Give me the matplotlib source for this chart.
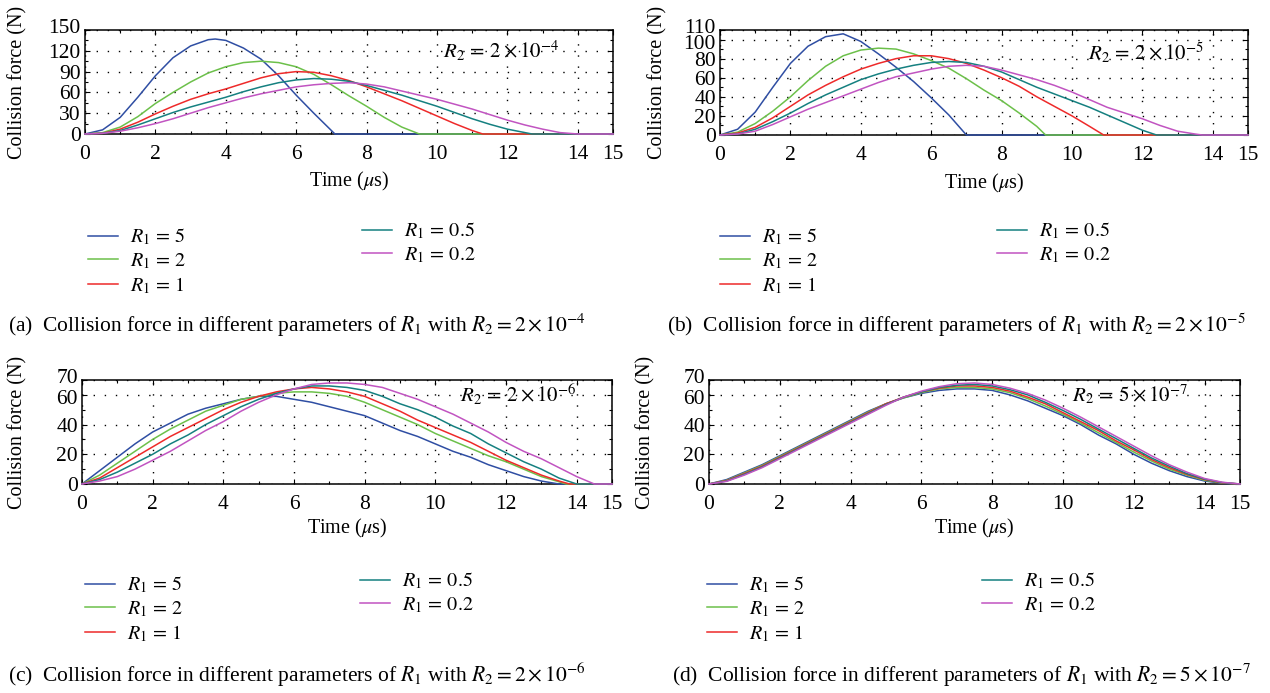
import matplotlib
matplotlib.use("Agg")
import matplotlib.pyplot as plt
from matplotlib.ticker import MultipleLocator
from matplotlib.transforms import ScaledTranslation

plt.rcParams['font.family'] = ['Liberation Serif', 'DejaVu Serif']
plt.rcParams['mathtext.fontset'] = 'stix'

# R1 values and colours shared by all panels
R1_LABELS = ['5', '2', '1', '0.5', '0.2']
COLORS = ['#2f4ea3', '#6cc04a', '#ee2a2a', '#158080', '#c154c1']

# (a) R2 = 2e-4
A5_T = [0, 0.5, 1, 1.5, 2, 2.5, 3, 3.5, 3.7, 4, 4.5, 5, 5.5, 6, 6.5, 7, 7.1, 15]
A5_F = [0, 6, 24, 53, 84, 110, 127, 136, 137, 135, 124, 108, 84, 56, 30, 5, 0, 0]
A2_T = [0, 0.5, 1, 1.5, 2, 2.5, 3, 3.5, 4, 4.5, 5, 5.5, 6, 6.5, 7, 7.5, 8, 8.5, 9, 9.5, 15]
A2_F = [0, 2, 10, 25, 44, 60, 75, 88, 97, 103, 105, 103, 97, 86, 71, 55, 40, 24, 10, 0, 0]
A1_T = [0, 0.5, 1, 1.5, 2, 2.5, 3, 3.5, 4, 4.5, 5, 5.5, 6, 6.5, 7, 7.5, 8, 8.5, 9, 9.5,
        10, 10.5, 11, 11.3, 15]
A1_F = [0, 1, 7, 17, 29, 40, 50, 58, 65, 73, 81, 87, 90, 89, 84, 77, 68, 58, 48, 37,
        26, 15, 5, 0, 0]
A05_T = [0, 0.5, 1, 1.5, 2, 2.5, 3, 3.5, 4, 4.5, 5, 5.5, 6, 6.5, 7, 7.5, 8, 8.5, 9, 9.5,
         10, 10.5, 11, 11.5, 12, 12.5, 12.7, 15]
A05_F = [0, 1, 5, 13, 22, 31, 39, 46, 53, 61, 68, 74, 78, 80, 79, 76, 70, 63, 56, 48,
         40, 31, 22, 14, 7, 2, 0, 0]
A02_T = [0, 0.5, 1, 1.5, 2, 2.5, 3, 3.5, 4, 4.5, 5, 5.5, 6, 6.5, 7, 7.5, 8, 8.5, 9, 9.5,
         10, 10.5, 11, 11.5, 12, 12.5, 13, 13.5, 14, 15]
A02_F = [0, 1, 4, 9, 15, 22, 30, 38, 45, 52, 58, 63, 68, 71, 73, 74, 72, 68, 62, 56,
         50, 43, 36, 28, 20, 13, 7, 2, 0, 0]

# (b) R2 = 2e-5
B5_T = [0, 0.5, 1, 1.5, 2, 2.5, 3, 3.5, 4, 4.5, 5, 5.5, 6, 6.5, 7, 15]
B5_F = [0, 6, 24, 50, 75, 93, 103, 106, 98, 85, 71, 56, 39, 21, 0, 0]
B2_T = [0, 0.5, 1, 1.5, 2, 2.5, 3, 3.5, 4, 4.5, 5, 5.5, 6, 6.5, 7, 7.5, 8, 8.5, 9, 9.25, 15]
B2_F = [0, 3, 12, 25, 40, 57, 72, 83, 89, 91, 90, 85, 78, 70, 59, 47, 36, 23, 9, 0, 0]
B1_T = [0, 0.5, 1, 1.5, 2, 2.5, 3, 3.5, 4, 4.5, 5, 5.5, 6, 6.5, 7, 7.5, 8, 8.5, 9, 9.5,
        10, 10.5, 10.9, 15]
B1_F = [0, 2, 8, 18, 30, 42, 52, 61, 69, 75, 80, 83, 83, 80, 75, 68, 60, 51, 40, 30,
        20, 9, 0, 0]
B05_T = [0, 0.5, 1, 1.5, 2, 2.5, 3, 3.5, 4, 4.5, 5, 5.5, 6, 6.5, 7, 7.5, 8, 8.5, 9, 9.5,
         10, 10.5, 11, 11.5, 12, 12.4, 15]
B05_F = [0, 1, 6, 14, 23, 33, 42, 50, 58, 64, 69, 73, 76, 77, 76, 72, 66, 58, 50, 43,
         36, 29, 21, 13, 5, 0, 0]
B02_T = [0, 0.5, 1, 1.5, 2, 2.5, 3, 3.5, 4, 4.5, 5, 5.5, 6, 6.5, 7, 7.5, 8, 8.5, 9, 9.5,
         10, 10.5, 11, 11.5, 12, 12.5, 13, 13.5, 13.7, 15]
B02_F = [0, 1, 4, 11, 19, 27, 34, 41, 48, 55, 61, 65, 69, 72, 73, 72, 68, 63, 58, 52,
         45, 37, 29, 23, 17, 10, 4, 1, 0, 0]

# (c) R2 = 2e-6
C_T = [0, 0.5, 1, 1.5, 2, 2.5, 3, 3.5, 4, 4.5, 5, 5.5, 6, 6.5, 7, 7.5, 8, 8.5, 9, 9.5,
       10, 10.5, 11, 11.5, 12, 12.5, 13, 13.5]
C5_T = C_T + [15]
C5_F = [0, 9, 18, 27, 35, 41, 47, 51, 54, 57, 59, 59, 57, 55, 52, 49, 46, 41, 36, 32,
        27, 22, 18, 13, 9, 5, 2, 0, 0]
C2_T = C_T + [13.7, 15]
C2_F = [0, 6, 14, 22, 30, 37, 43, 49, 53, 57, 59, 61, 62, 62, 61, 59, 55, 50, 45, 40,
        34, 29, 24, 19, 15, 10, 5, 1.5, 0, 0]
C1_T = C_T + [13.8, 15]
C1_F = [0, 4, 11, 18, 25, 32, 38, 44, 50, 55, 59, 62, 64, 65, 64, 62, 59, 54, 49, 43,
        38, 33, 28, 22, 16, 11, 6, 2, 0, 0]
C05_T = C_T + [14, 15]
C05_F = [0, 3, 8, 14, 20, 27, 33, 40, 46, 52, 57, 61, 64, 66, 66, 65, 63, 59, 54, 50,
         45, 39, 34, 27, 21, 15, 10, 4, 0, 0]
C02_T = C_T + [14, 14.5, 15]
C02_F = [0, 2, 5, 10, 16, 22, 29, 36, 42, 49, 55, 60, 64, 67, 68, 68, 67, 65, 61, 57,
         52, 47, 41, 35, 28, 22, 17, 11, 5, 0, 0]

# (d) R2 = 5e-7
D_T = [0, 0.5, 1, 1.5, 2, 2.5, 3, 3.5, 4, 4.5, 5, 5.5, 6, 6.5, 7, 7.5, 8, 8.5, 9, 9.5,
       10, 10.5, 11, 11.5, 12, 12.5, 13, 13.5, 14, 14.5, 15]
D5_F = [0, 3, 8, 13, 19, 25, 31, 37, 43, 49, 54, 58, 61, 63, 64, 64, 63, 60, 56, 51,
        46, 40, 33, 27, 20, 14, 9, 5, 2, 0.5, 0]
D2_F = [0, 2.5, 7.5, 12.5, 18.5, 24.5, 30.5, 36.5, 42.5, 48.5, 54, 58, 61.5, 64, 65, 65,
        64, 61.5, 57.5, 52.5, 47, 41, 34.5, 28, 21.5, 15.5, 10, 6, 2.5, 0.7, 0]
D1_F = [0, 2.3, 7, 12, 18, 24, 30, 36, 42, 48, 54, 58.5, 62, 64.5, 66, 66, 65, 62.5,
        58.5, 54, 48, 42, 36, 29, 23, 16.5, 11, 6.5, 3, 0.8, 0]
D05_F = [0, 2, 6.5, 11.5, 17.5, 23.5, 29.5, 35.5, 41.5, 47.5, 53.5, 58.5, 62, 65, 66.5,
         67, 66, 63.5, 60, 55, 49.5, 43.5, 37, 30.5, 24, 17.5, 12, 7, 3.3, 1, 0]
D02_F = [0, 1.8, 6, 11, 17, 23, 29, 35, 41, 47, 53, 58.5, 62.5, 65.5, 67.5, 68, 67, 64.5,
         61, 56.5, 51, 45, 38.5, 32, 25.5, 19, 13, 8, 3.7, 1.2, 0]

X_TICKS = [0, 2, 4, 6, 8, 10, 12, 14, 15]

W, H = 1270, 693


def fx(px):
    return px / W


def fy(py):
    return 1 - py / H


def panel(rect, curves, ymax, yticks, yminor, r2_text, txt_xy, leg1_xy, leg2_xy,
          caption, cap_xy, ylab_x, xlab_y):
    ax = fig.add_axes(rect)
    lines = []
    for (t, f), c, lab in zip(curves, COLORS, R1_LABELS):
        ln, = ax.plot(t, f, color=c, lw=1.1, clip_on=False, zorder=3,
                      label=r'$R_1\, =\, %s$' % lab)
        lines.append(ln)
    ax.set_xlim(0, 15)
    ax.set_ylim(0, ymax)
    ax.set_xticks(X_TICKS)
    ax.set_yticks(yticks)
    ax.xaxis.set_minor_locator(MultipleLocator(1))
    ax.set_yticks(yminor, minor=True)
    ax.tick_params(which='both', direction='in', top=True, right=True, labelsize=15.5)
    ax.tick_params(axis='x', pad=8)
    ax.tick_params(axis='y', pad=3)
    ax.tick_params(which='major', length=3.5, width=0.8)
    ax.tick_params(which='minor', length=2, width=0.8)
    ax.grid(True, which='major', color='black', lw=1.0, ls=(0, (1, 7)))
    for s in ax.spines.values():
        s.set_linewidth(1.1)
    ax.set_xlabel(r'Time ($\mu$s)', fontsize=14.5, va='center')
    ax.xaxis.set_label_coords(0.5, xlab_y)
    ax.set_ylabel('Collision force (N)', fontsize=14.5, va='center')
    ax.yaxis.set_label_coords(ylab_x, 0.5)
    ax.text(txt_xy[0], txt_xy[1], r2_text, transform=ax.transAxes, fontsize=15,
            va='center', ha='left')

    # the two top tick labels are close together: nudge them apart a little
    labels = ax.get_yticklabels()
    top, below = labels[-1], labels[-2]
    top.set_transform(top.get_transform() + ScaledTranslation(0, 3 / 72, fig.dpi_scale_trans))
    if yticks[-1] - yticks[-2] < 15:
        below.set_transform(below.get_transform()
                            + ScaledTranslation(0, -1.5 / 72, fig.dpi_scale_trans))

    kw = dict(frameon=False, fontsize=14.5, handlelength=1.5, handletextpad=0.6,
              labelspacing=0.2, borderpad=0, borderaxespad=0, loc='upper left',
              bbox_transform=fig.transFigure)
    leg1 = ax.legend(handles=lines[:3], bbox_to_anchor=(fx(leg1_xy[0]), fy(leg1_xy[1])), **kw)
    ax.add_artist(leg1)
    ax.legend(handles=lines[3:], bbox_to_anchor=(fx(leg2_xy[0]), fy(leg2_xy[1])), **kw)

    fig.text(fx(cap_xy[0]), fy(cap_xy[1]), caption, fontsize=15.5, va='center', ha='left')
    return ax


fig = plt.figure(figsize=(12.7, 6.93), dpi=100)

panel([fx(85), fy(134), fx(528), 104 / H],
      [(A5_T, A5_F), (A2_T, A2_F), (A1_T, A1_F), (A05_T, A05_F), (A02_T, A02_F)],
      150, [0, 30, 60, 90, 120, 150], [15, 45, 75, 105, 135],
      r'$R_2\, =\, 2\times10^{-4}$', (0.678, 0.80), (88, 227), (362, 221),
      r'(a)  Collision force in different parameters of $R_1$ with $R_2 = 2\times10^{-4}$',
      (8, 325), -0.127, -0.46)

panel([fx(720), fy(135), fx(528), 105 / H],
      [(B5_T, B5_F), (B2_T, B2_F), (B1_T, B1_F), (B05_T, B05_F), (B02_T, B02_F)],
      110, [0, 20, 40, 60, 80, 100, 110], [10, 30, 50, 70, 90],
      r'$R_2\, =\, 2\times10^{-5}$', (0.697, 0.78), (720, 227), (997, 221),
      r'(b)  Collision force in different parameters of $R_1$ with $R_2 = 2\times10^{-5}$',
      (667, 325), -0.117, -0.457)

panel([fx(82), fy(484), fx(530), 104 / H],
      [(C5_T, C5_F), (C2_T, C2_F), (C1_T, C1_F), (C05_T, C05_F), (C02_T, C02_F)],
      70, [0, 20, 40, 60, 70], [10, 30, 50],
      r'$R_2\, =\, 2\times10^{-6}$', (0.713, 0.856), (85, 575), (360, 571),
      r'(c)  Collision force in different parameters of $R_1$ with $R_2 = 2\times10^{-6}$',
      (8, 675), -0.121, -0.43)

panel([fx(709), fy(484), fx(531), 104 / H],
      [(D_T, D5_F), (D_T, D2_F), (D_T, D1_F), (D_T, D05_F), (D_T, D02_F)],
      70, [0, 20, 40, 60, 70], [10, 30, 50],
      r'$R_2\, =\, 5\times10^{-7}$', (0.684, 0.856), (707, 575), (982, 571),
      r'(d)  Collision force in different parameters of $R_1$ with $R_2 = 5\times10^{-7}$',
      (672, 675), -0.12, -0.43)

fig.savefig('out.png', dpi=100)
